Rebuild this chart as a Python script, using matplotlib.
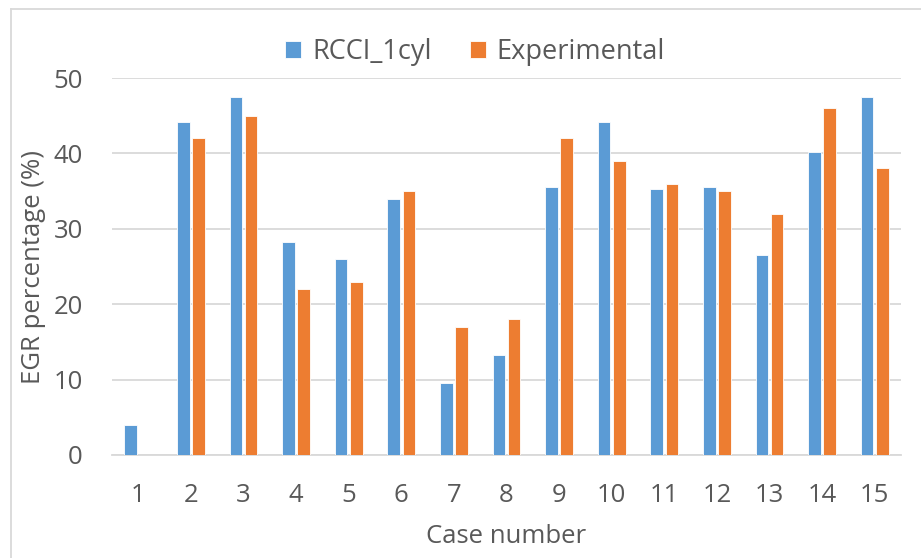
import matplotlib
matplotlib.use("Agg")
import matplotlib.pyplot as plt
import numpy as np
from matplotlib.lines import Line2D

cases = list(range(1, 16))
rcci_1cyl = [4.0, 44.1, 47.5, 28.3, 26.0, 34.0, 9.6, 13.2, 35.5, 44.2, 35.3, 35.6, 26.5, 40.2, 47.5]
experimental = [0, 42, 45, 22, 23, 35, 17, 18, 42, 39, 36, 35, 32, 46, 38]

blue = "#5B9BD5"
orange = "#ED7D31"
text_col = "#595959"

plt.rcParams['font.family'] = ['Open Sans', 'DejaVu Sans']

fig = plt.figure(figsize=(9.21, 5.58), dpi=100)
ax = fig.add_axes([112 / 921, 1 - 455 / 558, (901 - 112) / 921, (455 - 78) / 558])

x = np.array(cases)
w = 0.24
ax.bar(x - 0.145, rcci_1cyl, width=w, color=blue, edgecolor="white", linewidth=0.6,
       label="RCCI_1cyl", zorder=3)
ax.bar(x + 0.145, experimental, width=w, color=orange, edgecolor="white", linewidth=0.6,
       label="Experimental", zorder=3)

ax.set_xlim(0.5, 15.5)
ax.set_ylim(0, 50)
ax.set_yticks(range(0, 51, 10))
ax.set_xticks(cases)
ax.yaxis.grid(True, color="#D9D9D9", linewidth=1.3, zorder=0)
ax.set_axisbelow(True)
for s in ["top", "right", "left"]:
    ax.spines[s].set_visible(False)
ax.spines["bottom"].set_color("#D9D9D9")
ax.spines["bottom"].set_linewidth(1.3)
ax.tick_params(axis="both", length=0, labelsize=18.5, labelcolor=text_col)
ax.tick_params(axis="y", pad=21)
ax.tick_params(axis="x", pad=20)

ax.set_xlabel("Case number", fontsize=18.5, color=text_col, labelpad=12)
ax.set_ylabel("EGR percentage (%)", fontsize=18.5, color=text_col, labelpad=5)

ax.legend(loc="center", bbox_to_anchor=(475 / 921, 1 - 52 / 558), bbox_transform=fig.transFigure,
          ncol=2, frameon=False, fontsize=19.5, labelcolor=text_col, handlelength=0.6,
          handleheight=0.6, columnspacing=1.4, handletextpad=0.4)

# chart area border (left and top edges visible)
fig.add_artist(Line2D([11 / 921, 11 / 921], [0, 1 - 9 / 558], transform=fig.transFigure,
                      color="#D9D9D9", linewidth=1.3))
fig.add_artist(Line2D([11 / 921, 1], [1 - 9 / 558, 1 - 9 / 558], transform=fig.transFigure,
                      color="#D9D9D9", linewidth=1.3))

fig.savefig("out.png", dpi=100)
